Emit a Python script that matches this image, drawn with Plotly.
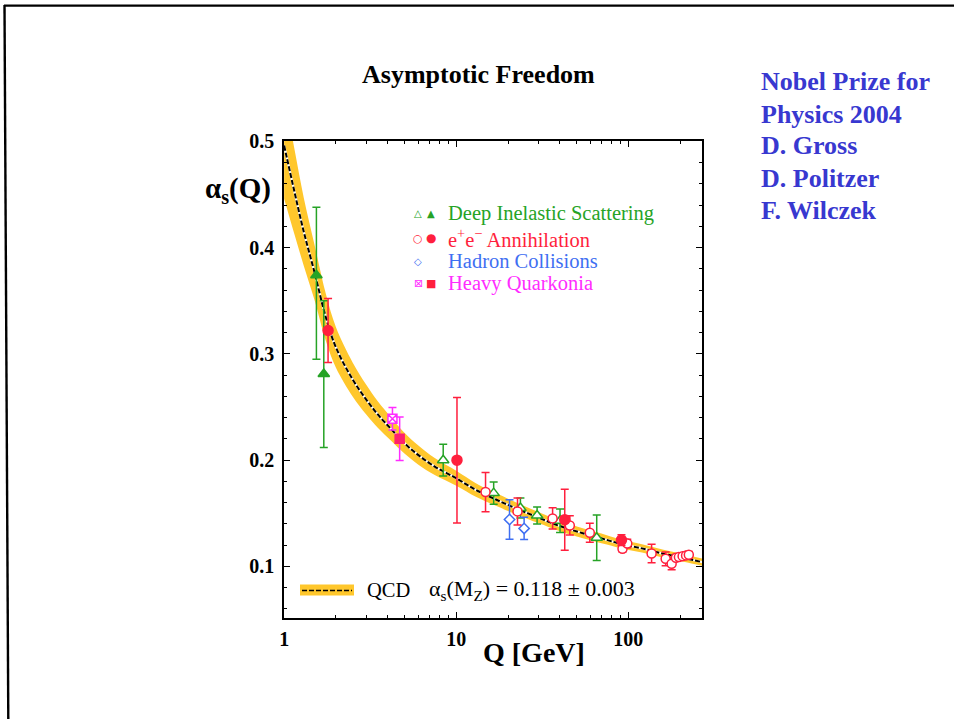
import plotly.graph_objects as go

# ---------------- data ----------------
# QCD curve and band (alpha_s(MZ) = 0.118 +- 0.003)
q_curve = [1, 1.15, 1.3, 1.5, 1.75, 2, 2.5, 3, 3.5, 4.2, 5, 6, 7.5, 10, 13, 17, 22, 30,
           40, 55, 75, 91, 120, 160, 210, 270]
a_curve = [0.496, 0.452, 0.415, 0.377, 0.334, 0.306, 0.276, 0.257, 0.243, 0.229, 0.216,
           0.205, 0.194, 0.183, 0.172, 0.163, 0.155, 0.146, 0.138, 0.131, 0.125, 0.121,
           0.117, 0.112, 0.108, 0.104]
a_band_hi = [0.546, 0.492, 0.447, 0.403, 0.356, 0.325, 0.292, 0.271, 0.2555, 0.240, 0.2258,
             0.214, 0.202, 0.190, 0.1784, 0.169, 0.1606, 0.1512, 0.1429, 0.1356, 0.1293,
             0.1251, 0.1209, 0.1157, 0.1115, 0.1074]
a_band_lo = [0.446, 0.412, 0.383, 0.351, 0.312, 0.287, 0.260, 0.243, 0.2305, 0.218, 0.2062,
             0.196, 0.186, 0.176, 0.1656, 0.157, 0.1494, 0.1408, 0.1331, 0.1264, 0.1207,
             0.1169, 0.1131, 0.1083, 0.1045, 0.1006]

# Deep inelastic scattering
dis_filled_q = [1.54, 1.70]
dis_filled_a = [0.374, 0.281]
dis_filled_ep = [0.064, 0.069]
dis_filled_em = [0.079, 0.069]
dis_open_q = [8.4, 16.5, 23.6, 29.5, 40.1, 65.5]
dis_open_a = [0.200, 0.169, 0.155, 0.148, 0.143, 0.127]
dis_open_e = [0.015, 0.0105, 0.0095, 0.008, 0.011, 0.0215]

# e+e- annihilation
ee_filled_q = [1.80, 10.1, 42.7, 91.2]
ee_filled_a = [0.322, 0.200, 0.144, 0.1248]
ee_filled_e = [0.030, 0.059, 0.0287, 0.005]
ee_open_q = [14.8, 22.7, 36.3, 45.7, 59.7, 92.5, 98.6, 136.5, 164.7, 178.5, 189, 196.7,
             206.7, 216.5, 224.6]
ee_open_a = [0.170, 0.1518, 0.1452, 0.1386, 0.1317, 0.1167, 0.1216, 0.1122, 0.1072, 0.1025,
             0.1082, 0.1088, 0.1097, 0.1104, 0.1110]
ee_open_e = [0.0185, 0.0127, 0.010, 0.009, 0.009, 0.003, 0.004, 0.0086, 0.0065, 0.0055,
             0.003, 0.003, 0.003, 0.003, 0.003]

# Hadron collisions
had_q = [20.4, 24.8]
had_a = [0.1442, 0.1358]
had_e = [0.0185, 0.0105]

# Heavy quarkonia
hq_open_q = [4.26]
hq_open_a = [0.239]
hq_open_e = [0.0105]
hq_filled_q = [4.69]
hq_filled_a = [0.2202]
hq_filled_e = [0.0205]

y_tickvals = [0.1, 0.2, 0.3, 0.4, 0.5]
y_ticktext = ["0.1", "0.2", "0.3", "0.4", "0.5"]
y_minor = [0.06, 0.08, 0.12, 0.14, 0.16, 0.18, 0.22, 0.24, 0.26, 0.28, 0.32, 0.34, 0.36,
           0.38, 0.42, 0.44, 0.46, 0.48]
x_tickvals = [1, 10, 100]
x_ticktext = ["1", "10", "100"]
x_minor = [2, 3, 4, 5, 6, 7, 8, 9, 20, 30, 40, 50, 60, 70, 80, 90, 200]

legend_rows = ["Deep Inelastic Scattering", "e<sup>+</sup>e<sup>\u2212</sup> Annihilation",
               "Hadron Collisions", "Heavy Quarkonia"]
nobel_lines = ["Nobel Prize for", "Physics 2004", "D. Gross", "D. Politzer", "F. Wilczek"]

# ---------------- styling ----------------
GREEN = "#26a326"
RED = "#ff1f3d"
BLUE = "#3f6ff2"
MAG = "#ff2cff"
GOLD = "#ffc72c"
NAVY = "#3838d0"
SERIF = "Liberation Serif"

W, H = 954, 719
L, R, T, B = 284, 252, 141, 101
PW, PH = W - L - R, H - T - B


def px(x):
    return (x - L) / PW


def py(y):
    return (H - B - y) / PH


fig = go.Figure()

# band
fig.add_trace(go.Scatter(x=q_curve, y=a_band_hi, mode="lines", line=dict(width=0, shape="spline"),
                         hoverinfo="skip", showlegend=False))
fig.add_trace(go.Scatter(x=q_curve, y=a_band_lo, mode="lines", line=dict(width=0, shape="spline"),
                         fill="tonexty", fillcolor=GOLD, hoverinfo="skip", showlegend=False))
# central curve
fig.add_trace(go.Scatter(x=q_curve, y=a_curve, mode="lines",
                         line=dict(color="white", width=2.2, shape="spline"),
                         hoverinfo="skip", showlegend=False))
fig.add_trace(go.Scatter(x=q_curve, y=a_curve, mode="lines",
                         line=dict(color="black", width=2, dash="5px,2px", shape="spline"),
                         showlegend=False))


def pts(q, a, ep, em, symbol, fill, edge, ecolor, size=9):
    fig.add_trace(go.Scatter(
        x=q, y=a, mode="markers", showlegend=False,
        marker=dict(symbol=symbol, size=size, color=fill, line=dict(color=edge, width=1.5)),
        error_y=dict(type="data", array=ep, arrayminus=em, color=ecolor, thickness=1.5, width=4),
    ))


pts(dis_filled_q, dis_filled_a, dis_filled_ep, dis_filled_em, "triangle-up", GREEN, GREEN, GREEN, 10)
pts(dis_open_q, dis_open_a, dis_open_e, dis_open_e, "triangle-up", "white", GREEN, GREEN, 10)
pts(had_q, had_a, had_e, had_e, "diamond", "white", BLUE, BLUE, 8)
pts(hq_open_q, hq_open_a, hq_open_e, hq_open_e, "square-x", "white", MAG, MAG, 9)
pts(hq_filled_q, hq_filled_a, hq_filled_e, hq_filled_e, "square", "#ff2070", "#ff2070", MAG, 9)
pts(ee_open_q, ee_open_a, ee_open_e, ee_open_e, "circle", "white", RED, RED, 9)
pts(ee_filled_q, ee_filled_a, ee_filled_e, ee_filled_e, "circle", RED, RED, RED, 10)

ann = []
# title
ann.append(dict(text="<b>Asymptotic Freedom</b>", x=px(478), y=py(74), xref="paper", yref="paper",
                xanchor="center", yanchor="middle", showarrow=False,
                font=dict(family=SERIF, size=26, color="black")))
# axis titles
ann.append(dict(text="<b>\u03b1<sub>s</sub>(Q)</b>", x=px(273), y=py(190), xref="paper", yref="paper",
                xanchor="right", yanchor="middle", showarrow=False,
                font=dict(family=SERIF, size=29, color="black")))
ann.append(dict(text="<b>Q [GeV]</b>", x=px(534), y=py(652), xref="paper", yref="paper",
                xanchor="center", yanchor="middle", showarrow=False,
                font=dict(family=SERIF, size=28, color="black")))
# Nobel text
for i, line in enumerate(nobel_lines):
    ann.append(dict(text="<b>" + line + "</b>", x=px(759), y=py(82 + 32 * i), xref="paper", yref="paper",
                    xanchor="left", yanchor="middle", showarrow=False,
                    font=dict(family=SERIF, size=26, color=NAVY)))
# legend
row_y = [213, 238, 261, 283]
row_col = [GREEN, RED, BLUE, MAG]
for yy, txt, col in zip(row_y, legend_rows, row_col):
    ann.append(dict(text=txt, x=px(446), y=py(yy), xref="paper", yref="paper",
                    xanchor="left", yanchor="middle", showarrow=False,
                    font=dict(family=SERIF, size=20.5, color=col)))
sym = [("\u25b3", 418, 0, GREEN, 10), ("\u25b2", 431, 0, GREEN, 10),
       ("\u25cb", 418, 1, RED, 11), ("\u25cf", 431, 1, RED, 12),
       ("\u25c7", 418, 2, BLUE, 10),
       ("\u22a0", 418, 3, MAG, 11), ("\u25a0", 431, 3, RED, 11)]
for ch, xx, r, col, sz in sym:
    ann.append(dict(text=ch, x=px(xx), y=py(row_y[r]), xref="paper", yref="paper",
                    xanchor="center", yanchor="middle", showarrow=False,
                    font=dict(family="DejaVu Sans", size=sz, color=col)))
# QCD legend
ann.append(dict(text="QCD", x=px(365), y=py(590), xref="paper", yref="paper",
                xanchor="left", yanchor="middle", showarrow=False,
                font=dict(family=SERIF, size=20.5, color="black")))
ann.append(dict(text="\u03b1<sub>s</sub>(M<sub>Z</sub>) = 0.118 \u00b1 0.003", x=px(427), y=py(590),
                xref="paper", yref="paper", xanchor="left", yanchor="middle", showarrow=False,
                font=dict(family=SERIF, size=22, color="black")))

shapes = [
    dict(type="rect", xref="paper", yref="paper", x0=px(300), x1=px(354), y0=py(595.5), y1=py(584.5),
         fillcolor=GOLD, line=dict(width=0)),
    dict(type="line", xref="paper", yref="paper", x0=px(302), x1=px(352), y0=py(590.5), y1=py(590.5),
         line=dict(color="black", width=1.6, dash="5px,2px")),
    # slide frame
    dict(type="line", xref="paper", yref="paper", x0=px(4), x1=px(954), y0=py(5.7), y1=py(5.7),
         line=dict(color="black", width=2.2)),
    dict(type="line", xref="paper", yref="paper", x0=px(4.5), x1=px(8.3), y0=py(5), y1=py(719),
         line=dict(color="black", width=2.4)),
]

axis_common = dict(showline=True, linecolor="black", linewidth=1.5, mirror="allticks",
                   ticks="inside", ticklen=6, tickwidth=1.2, tickcolor="black",
                   showgrid=False, zeroline=False,
                   tickfont=dict(family=SERIF, size=20, color="black", weight="bold"))

fig.update_layout(
    width=W, height=H, margin=dict(l=L, r=R, t=T, b=B),
    paper_bgcolor="white", plot_bgcolor="white", showlegend=False,
    annotations=ann, shapes=shapes,
    xaxis=dict(type="log", range=[-0.0008, 2.428], tickmode="array", tickvals=x_tickvals,
               ticktext=x_ticktext, ticklabelstandoff=2,
               minor=dict(tickmode="array", tickvals=x_minor, ticks="inside", ticklen=3,
                          tickwidth=1, tickcolor="black", showgrid=False),
               **axis_common),
    yaxis=dict(range=[0.0515, 0.5003], tickmode="array", tickvals=y_tickvals, ticktext=y_ticktext,
               ticklabelstandoff=4,
               minor=dict(tickmode="array", tickvals=y_minor, ticks="inside", ticklen=3,
                          tickwidth=1, tickcolor="black", showgrid=False),
               **axis_common),
)

fig.write_html("out.html")
